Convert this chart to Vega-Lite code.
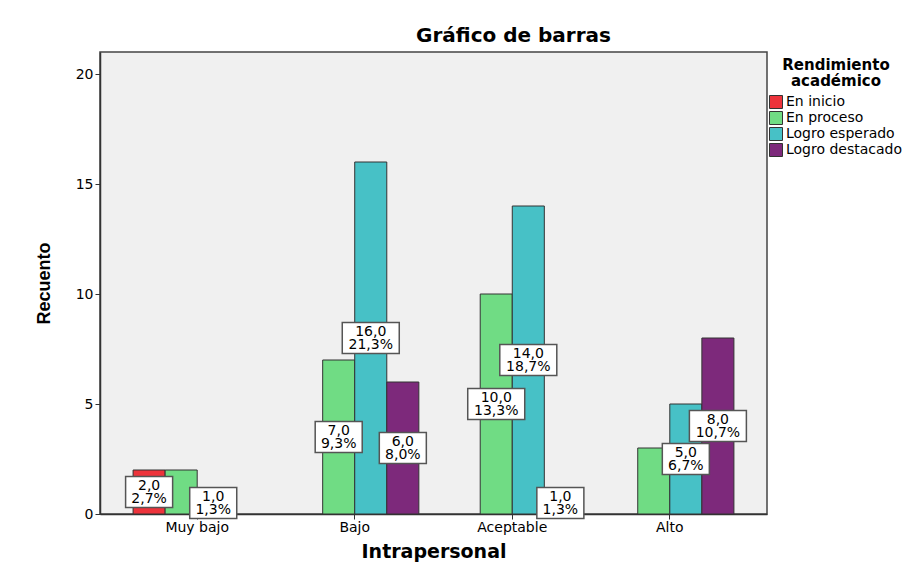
{
  "$schema": "https://vega.github.io/schema/vega-lite/v6.json",
  "width": 667,
  "height": 462,
  "autosize": {"type": "none"},
  "padding": {"left": 100, "top": 52, "right": 155, "bottom": 56},
  "background": "white",
  "title": {"text": "Gráfico de barras", "font": "DejaVu Sans", "fontSize": 20, "fontWeight": "bold", "anchor": "middle", "dx": 80, "offset": 6, "color": "#000"},
  "data": {"values": [
    {"cat": "Muy bajo", "grupo": "En inicio", "valor": 2, "etiqueta": "2,0\n2,7%"},
    {"cat": "Muy bajo", "grupo": "En proceso", "valor": 2, "etiqueta": ""},
    {"cat": "Muy bajo", "grupo": "Logro esperado", "valor": 1, "etiqueta": "1,0\n1,3%"},
    {"cat": "Bajo", "grupo": "En proceso", "valor": 7, "etiqueta": "7,0\n9,3%"},
    {"cat": "Bajo", "grupo": "Logro esperado", "valor": 16, "etiqueta": "16,0\n21,3%"},
    {"cat": "Bajo", "grupo": "Logro destacado", "valor": 6, "etiqueta": "6,0\n8,0%"},
    {"cat": "Aceptable", "grupo": "En proceso", "valor": 10, "etiqueta": "10,0\n13,3%"},
    {"cat": "Aceptable", "grupo": "Logro esperado", "valor": 14, "etiqueta": "14,0\n18,7%"},
    {"cat": "Aceptable", "grupo": "Logro destacado", "valor": 1, "etiqueta": "1,0\n1,3%"},
    {"cat": "Alto", "grupo": "En proceso", "valor": 3, "etiqueta": ""},
    {"cat": "Alto", "grupo": "Logro esperado", "valor": 5, "etiqueta": "5,0\n6,7%"},
    {"cat": "Alto", "grupo": "Logro destacado", "valor": 8, "etiqueta": "8,0\n10,7%"}
  ]},
  "encoding": {
    "x": {"field": "cat", "type": "nominal", "sort": ["Muy bajo", "Bajo", "Aceptable", "Alto"],
      "scale": {"paddingInner": 0.186, "paddingOuter": 0.21},
      "axis": {"title": "Intrapersonal", "labelAngle": 0, "titleFont": "DejaVu Sans", "titleFontSize": 19, "titleFontWeight": "bold", "titlePadding": 8, "labelFont": "DejaVu Sans", "labelFontSize": 14, "labelPadding": 1, "tickSize": 5, "tickColor": "#333", "domainColor": "#333", "domainWidth": 1.5, "labelColor": "#000", "titleColor": "#000"}},
    "xOffset": {"field": "grupo", "type": "nominal", "sort": ["En inicio", "En proceso", "Logro esperado", "Logro destacado"],
      "scale": {"domain": ["En inicio", "En proceso", "Logro esperado", "Logro destacado"], "paddingInner": 0, "paddingOuter": 0}}
  },
  "layer": [
    {
      "mark": {"type": "bar", "stroke": "#333", "strokeWidth": 1},
      "encoding": {
        "y": {"field": "valor", "type": "quantitative", "scale": {"domain": [0, 21], "nice": false},
          "axis": {"title": "Recuento", "values": [0, 5, 10, 15, 20], "grid": false, "titleFontSize": 18, "titleFontWeight": "bold", "titlePadding": 22, "labelFont": "DejaVu Sans", "labelFontSize": 14, "labelPadding": 2, "tickSize": 5, "tickColor": "#333", "domainColor": "#333", "domainWidth": 1.5, "labelColor": "#000", "titleColor": "#000"}},
        "color": {"field": "grupo", "type": "nominal",
          "scale": {"domain": ["En inicio", "En proceso", "Logro esperado", "Logro destacado"], "range": ["#ed333b", "#70dc84", "#47c1c6", "#7d297b"]},
          "legend": {"title": ["Rendimiento", "académico"], "orient": "right", "offset": -4, "padding": 6, "titleFont": "DejaVu Sans", "titleFontSize": 15, "titleFontWeight": "bold", "titleAlign": "center", "titleAnchor": "middle", "titleLineHeight": 16, "titlePadding": 6, "titleColor": "#000", "labelFont": "DejaVu Sans", "labelFontSize": 14, "labelColor": "#000", "labelOffset": 3, "symbolType": "square", "symbolSize": 169, "symbolStrokeColor": "#333", "symbolStrokeWidth": 1, "symbolOpacity": 1, "rowPadding": -2, "labelLimit": 200}}
      }
    },
    {
      "transform": [{"filter": "datum.etiqueta != '' && datum.valor < 8"}],
      "mark": {"type": "point", "shape": "M-0.825,-0.544L0.825,-0.544L0.825,0.544L-0.825,0.544Z", "size": 3249, "filled": true, "fill": "white", "stroke": "#555", "strokeWidth": 1.5, "opacity": 1},
      "encoding": {
        "y": {"field": "valor", "type": "quantitative", "scale": {"domain": [0, 42], "nice": false}, "axis": null}
      }
    },
    {
      "transform": [{"filter": "datum.etiqueta != '' && datum.valor >= 8"}],
      "mark": {"type": "point", "shape": "M-1,-0.544L1,-0.544L1,0.544L-1,0.544Z", "size": 3249, "filled": true, "fill": "white", "stroke": "#555", "strokeWidth": 1.5, "opacity": 1},
      "encoding": {
        "y": {"field": "valor", "type": "quantitative", "scale": {"domain": [0, 42], "nice": false}, "axis": null}
      }
    },
    {
      "mark": {"type": "text", "lineBreak": "\n", "font": "DejaVu Sans", "fontSize": 14, "lineHeight": 13, "baseline": "middle", "align": "center", "dy": -6.5, "color": "#000"},
      "encoding": {
        "y": {"field": "valor", "type": "quantitative", "scale": {"domain": [0, 42], "nice": false}, "axis": null},
        "text": {"field": "etiqueta"}
      }
    }
  ],
  "resolve": {"scale": {"y": "independent"}},
  "config": {
    "font": "Liberation Sans",
    "view": {"fill": "#f0f0f0", "stroke": "#444", "strokeWidth": 1.5}
  }
}
